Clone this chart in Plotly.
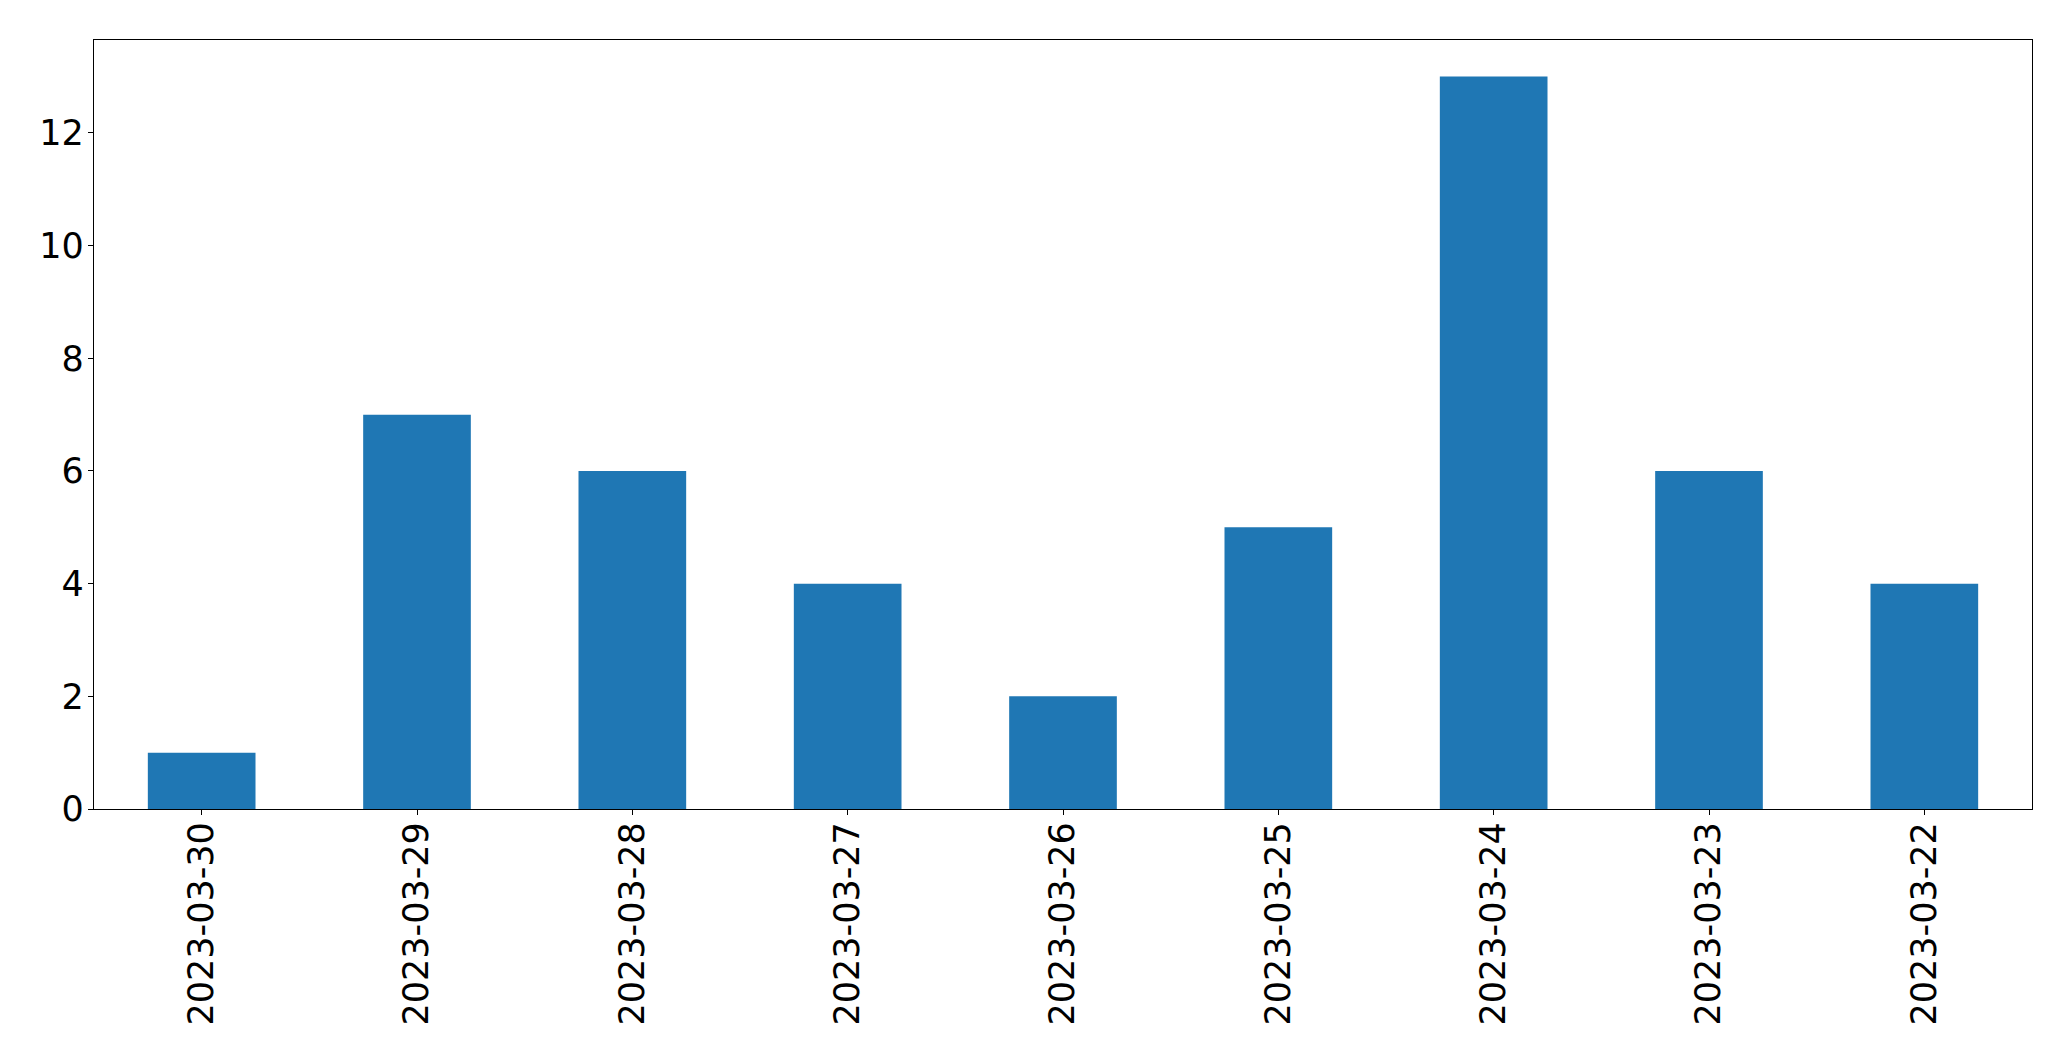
import plotly.graph_objects as go

dates = ["2023-03-30", "2023-03-29", "2023-03-28", "2023-03-27", "2023-03-26",
         "2023-03-25", "2023-03-24", "2023-03-23", "2023-03-22"]
counts = [1, 7, 6, 4, 2, 5, 13, 6, 4]

fig = go.Figure(go.Bar(x=list(range(len(dates))), y=counts, width=0.5,
                       marker=dict(color="#1f77b4", line=dict(width=0))))

fig.update_layout(
    width=2071, height=1061,
    margin=dict(l=86, r=47, t=32, b=260),
    paper_bgcolor="white", plot_bgcolor="white",
    font=dict(family="DejaVu Sans", size=35, color="black"),
    showlegend=False,
)
fig.update_xaxes(
    range=[-0.5, len(dates) - 0.5],
    tickmode="array", tickvals=list(range(len(dates))), ticktext=dates,
    tickangle=-90, ticks="outside", ticklen=5, tickwidth=1.3, tickcolor="black",
    ticklabelstandoff=-7,
    showline=True, linecolor="black", linewidth=1.3, mirror=True,
    showgrid=False, zeroline=False,
)
fig.update_yaxes(
    range=[0, 13.65], tickvals=[0, 2, 4, 6, 8, 10, 12],
    ticks="outside", ticklen=5, tickwidth=1.3, tickcolor="black",
    ticklabelstandoff=-3,
    showline=True, linecolor="black", linewidth=1.3, mirror=True,
    showgrid=False, zeroline=False,
)
fig.write_html("out.html")
